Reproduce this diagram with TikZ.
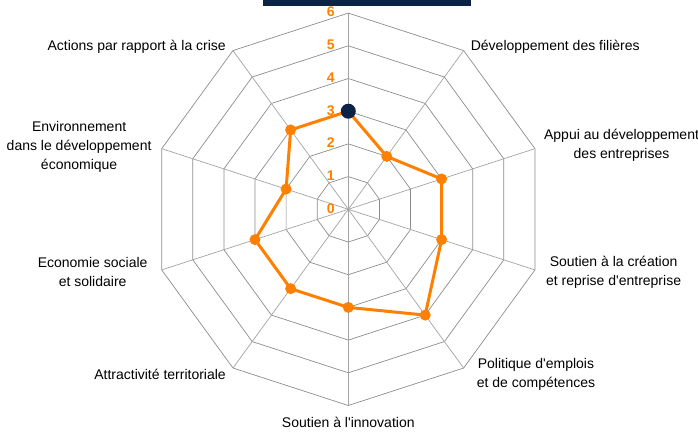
\documentclass[tikz,border=0pt]{standalone}
\usepackage{fontspec}
\setmainfont{Liberation Sans}
\usetikzlibrary{calc, positioning}
\definecolor{camdam}{RGB}{255,128,0}
\definecolor{xanhdam}{RGB}{11,36,70}
\definecolor{xamluoi}{RGB}{140,140,140}

\tikzset{
  luoi/.style={draw=xamluoi, line width=0.7pt},
  truc/.style={draw=xamluoi!80, line width=0.7pt},
  nhan/.style={inner sep=0pt, align=center, font=\fontsize{14}{19}\selectfont},
  so/.style={inner sep=0pt, anchor=east, text=camdam, font=\fontsize{14}{14}\selectfont\bfseries},
  cham/.style={circle, fill=camdam, inner sep=0pt, minimum size=11pt},
  chamdau/.style={circle, fill=xanhdam, inner sep=0pt, minimum size=15pt}
}

\begin{document}
\begin{tikzpicture}[x=1pt,y=1pt] % Tỉ lệ hình: 1 đơn vị = 1 điểm ảnh

            % Khung hình
            \useasboundingbox (-348.3,-225.7) rectangle (349.7,209.3);
            \fill[xanhdam] (-85.3,209.3) rectangle (122.7,202.8); % Thanh tiêu đề

            % Vẽ lưới mạng nhện (6 mức)
            \foreach \k in {1,...,6}
              \draw[luoi] (90:\k*32.7) \foreach \g in {54,18,...,-234}{ -- (\g:\k*32.7)} -- cycle;

            % Vẽ các trục
            \coordinate (O) at (0,0); % Tâm
            \foreach \g [count=\i] in {90,54,...,-234}
              \coordinate (dinh\i) at (\g:196.2);
            \foreach \i in {1,...,10}
              \draw[truc] (O) -- (dinh\i);

            % Số trên trục đứng
            \foreach \k in {0,...,6}
              \node[so] (so\k) at (-13.5,\k*32.7+1) {\k};

            % Nhãn các trục
            \node[nhan, anchor=base west] (nhan2) at ($(dinh2)+(7,0)$) {Développement des filières};
            \node[nhan, anchor=west] (nhan3) at ($(dinh3)+(9,3)$) {Appui au développement\\des entreprises};
            \node[nhan, anchor=west] (nhan4) at ($(dinh4)+(11,-2)$) {Soutien à la création\\et reprise d\textquotesingle entreprise};
            \node[nhan, anchor=west] (nhan5) at ($(dinh5)+(13,-6)$) {Politique d\textquotesingle emplois\\et de compétences};
            \node[nhan, anchor=north] (nhan6) at ($(dinh6)+(0,-11)$) {Soutien à l\textquotesingle innovation};
            \node[nhan, anchor=base east] (nhan7) at ($(dinh7)+(-7,-11)$) {Attractivité territoriale};
            \node[nhan, anchor=east] (nhan8) at ($(dinh8)+(-14,-2.5)$) {Economie sociale\\et solidaire};
            \node[nhan, anchor=east] (nhan9) at ($(dinh9)+(-10,2)$) {Environnement\\dans le développement\\économique};
            \node[nhan, anchor=base east] (nhan10) at ($(dinh10)+(-7,0)$) {Actions par rapport à la crise};

            % Dữ liệu
            \foreach \g/\v [count=\i] in {90/3,54/2,18/3,-18/3,-54/4,-90/3,-126/3,-162/3,-198/2,-234/3}
              \coordinate (diem\i) at (\g:\v*32.7);
            \draw[camdam, line width=3pt, line join=round] (diem1) -- (diem2) -- (diem3) -- (diem4) -- (diem5)
              -- (diem6) -- (diem7) -- (diem8) -- (diem9) -- (diem10) -- cycle; % Đường dữ liệu
            \foreach \i in {2,...,10}
              \node[cham] (cham\i) at (diem\i) {};
            \node[chamdau] (cham1) at (diem1) {}; % Điểm đầu

\end{tikzpicture}
\end{document}
